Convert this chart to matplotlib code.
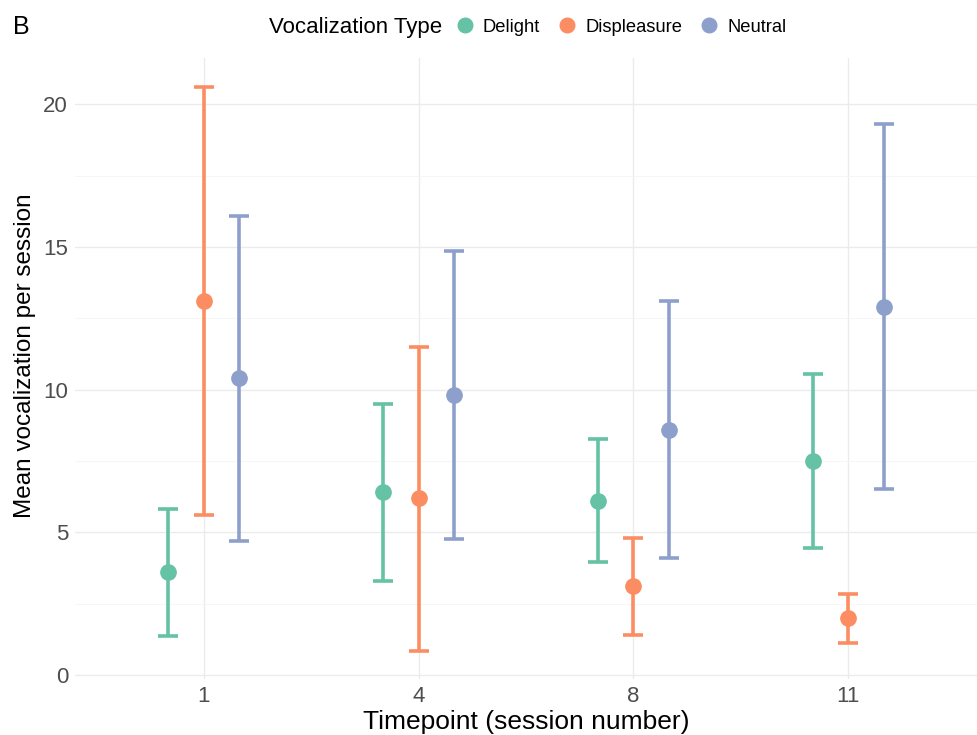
import numpy as np
import matplotlib.pyplot as plt
from matplotlib.lines import Line2D
from matplotlib.offsetbox import HPacker

plt.rcParams['font.family'] = ['Liberation Sans', 'DejaVu Sans']

timepoints = ['1', '4', '8', '11']
groups = ['Delight', 'Displeasure', 'Neutral']
colors = ['#66C2A5', '#FC8D62', '#8DA0CB']

means = {
    'Delight':     [3.6, 6.4, 6.1, 7.5],
    'Displeasure': [13.1, 6.2, 3.1, 2.0],
    'Neutral':     [10.4, 9.8, 8.6, 12.9],
}
lower = {
    'Delight':     [1.35, 3.3, 3.95, 4.45],
    'Displeasure': [5.6, 0.85, 1.4, 1.1],
    'Neutral':     [4.7, 4.75, 4.1, 6.5],
}
upper = {
    'Delight':     [5.8, 9.5, 8.25, 10.55],
    'Displeasure': [20.6, 11.5, 4.8, 2.85],
    'Neutral':     [16.1, 14.85, 13.1, 19.3],
}

fig = plt.figure(figsize=(9.77, 7.35), dpi=100)
ax = fig.add_axes([0.0768, 0.076, 0.9232, 0.845])

x = np.arange(1, len(timepoints) + 1)
offsets = [-0.165, 0.0, 0.165]
for g, c, off in zip(groups, colors, offsets):
    m = np.array(means[g])
    lo = m - np.array(lower[g])
    hi = np.array(upper[g]) - m
    ax.errorbar(x + off, m, yerr=[lo, hi], fmt='none', ecolor=c,
                elinewidth=2.6, capsize=7, capthick=2.6, zorder=3)
    ax.plot(x + off, m, 'o', color=c, markersize=11, zorder=4)

ax.set_xlim(0.4, 4.6)
ax.set_ylim(-0.15, 21.62)
ax.set_xticks(x)
ax.set_xticklabels(timepoints)
ax.set_yticks([0, 5, 10, 15, 20])
ax.set_yticks([2.5, 7.5, 12.5, 17.5], minor=True)

ax.grid(True, which='major', color='#EBEBEB', linewidth=1.0)
ax.grid(True, which='minor', axis='y', color='#F5F5F5', linewidth=0.6)
ax.set_axisbelow(True)
for s in ax.spines.values():
    s.set_visible(False)
ax.tick_params(axis='both', which='both', length=0, labelsize=16,
               labelcolor='#4D4D4D', pad=5)

ax.set_xlabel('Timepoint (session number)', fontsize=19, labelpad=2)
ax.set_ylabel('Mean vocalization per session', fontsize=17.5)
ax.yaxis.set_label_coords(-0.043, 0.52)

handles = [Line2D([], [], marker='o', linestyle='none', color=c,
                  markersize=10.5) for c in colors]
leg = fig.legend(handles, groups, loc='center', bbox_to_anchor=(0.540, 0.963),
                 ncol=3, frameon=False, fontsize=13.2, handletextpad=0.0,
                 columnspacing=0.45, title='Vocalization Type',
                 title_fontsize=16)
# put title on the left of the keys
box = leg._legend_box
box._children = [HPacker(children=box._children, align='center', pad=0, sep=3)]
fig.text(0.013, 0.963, 'B', fontsize=18, va='center', ha='left')

fig.savefig('out.png', dpi=100)
